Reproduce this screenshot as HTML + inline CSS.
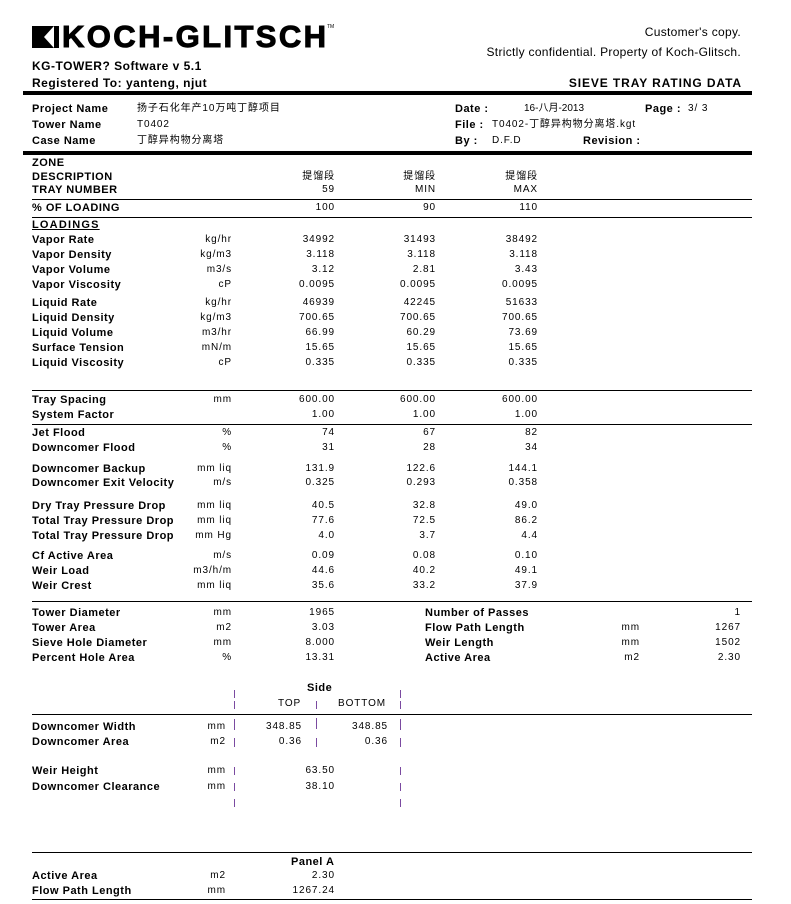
<!DOCTYPE html>
<html><head><meta charset="utf-8"><style>
html,body{margin:0;padding:0;background:#fff;}
body{width:791px;height:904px;position:relative;overflow:hidden;font-family:"Liberation Sans","Noto Sans CJK SC",sans-serif;color:#000;}
div{position:absolute;white-space:nowrap;line-height:12px;}
.b{font-weight:bold;font-size:11px;letter-spacing:0.5px;}
.n{font-size:10px;letter-spacing:0.9px;}
.h{height:0;border-top:1px solid #000;}
.t{height:0;border-top:4px solid #000;}
.v{width:0;border-left:1px solid #7a4aa0;}
</style></head><body>
<div style="left:32px;top:26px;width:27px;height:22px;background:#000;"></div>
<div style="left:44px;top:26px;width:0;height:0;border-top:11px solid transparent;border-bottom:11px solid transparent;border-left:0;border-right:10px solid #fff;"></div>
<div style="left:62px;top:20px;font-size:31px;line-height:34px;font-weight:bold;letter-spacing:2.4px;-webkit-text-stroke:1px #000;">KOCH-GLITSCH</div>
<div style="left:327px;top:24px;font-size:5px;line-height:6px;">TM</div>
<div style="right:50px;top:26px;font-size:12px;letter-spacing:0.3px;">Customer's copy.</div>
<div style="right:50px;top:46px;font-size:12px;letter-spacing:0.3px;">Strictly confidential. Property of Koch-Glitsch.</div>
<div class="b" style="left:32px;top:60px;font-size:12px;">KG-TOWER? Software v 5.1</div>
<div class="b" style="left:32px;top:77px;font-size:12px;">Registered To: yanteng, njut</div>
<div class="b" style="right:49px;top:77px;font-size:12px;letter-spacing:0.9px;">SIEVE TRAY RATING DATA</div>
<div class="t" style="left:23px;top:91px;width:729px;"></div>
<div class="b" style="left:32px;top:103px;">Project Name</div><div class="n" style="left:137px;top:103px;">扬子石化年产10万吨丁醇项目</div>
<div class="b" style="left:32px;top:119px;">Tower Name</div><div class="n" style="left:137px;top:119px;">T0402</div>
<div class="b" style="left:32px;top:135px;">Case Name</div><div class="n" style="left:137px;top:135px;">丁醇异构物分离塔</div>
<div class="b" style="left:455px;top:103px;">Date :</div><div class="n" style="left:524px;top:103px;letter-spacing:0;">16-八月-2013</div>
<div class="b" style="left:645px;top:103px;">Page :</div><div class="n" style="left:688px;top:103px;">3/ 3</div>
<div class="b" style="left:455px;top:119px;">File :</div><div class="n" style="left:492px;top:119px;">T0402-丁醇异构物分离塔.kgt</div>
<div class="b" style="left:455px;top:135px;">By :</div><div class="n" style="left:492px;top:135px;">D.F.D</div>
<div class="b" style="left:583px;top:135px;">Revision :</div>
<div class="t" style="left:23px;top:151px;width:729px;"></div>

<div class="b" style="left:32px;top:157px;">ZONE</div>
<div class="b" style="left:32px;top:171px;">DESCRIPTION</div>
<div class="n" style="right:456px;top:171px;">提馏段</div><div class="n" style="right:355px;top:171px;">提馏段</div><div class="n" style="right:253px;top:171px;">提馏段</div>
<div class="b" style="left:32px;top:184px;">TRAY NUMBER</div>
<div class="n" style="right:456px;top:184px;">59</div><div class="n" style="right:355px;top:184px;">MIN</div><div class="n" style="right:253px;top:184px;">MAX</div>
<div class="h" style="left:32px;top:199px;width:720px;"></div>
<div class="b" style="left:32px;top:202px;">% OF LOADING</div>
<div class="n" style="right:456px;top:202px;">100</div><div class="n" style="right:355px;top:202px;">90</div><div class="n" style="right:253px;top:202px;">110</div>
<div class="h" style="left:32px;top:217px;width:720px;"></div>
<div class="b" style="left:32px;top:219px;text-decoration:underline;letter-spacing:1.2px;">LOADINGS</div>

<div class="b" style="left:32px;top:234px;">Vapor Rate</div><div class="n" style="right:559px;top:234px;">kg/hr</div><div class="n" style="right:456px;top:234px;">34992</div><div class="n" style="right:355px;top:234px;">31493</div><div class="n" style="right:253px;top:234px;">38492</div>
<div class="b" style="left:32px;top:249px;">Vapor Density</div><div class="n" style="right:559px;top:249px;">kg/m3</div><div class="n" style="right:456px;top:249px;">3.118</div><div class="n" style="right:355px;top:249px;">3.118</div><div class="n" style="right:253px;top:249px;">3.118</div>
<div class="b" style="left:32px;top:264px;">Vapor Volume</div><div class="n" style="right:559px;top:264px;">m3/s</div><div class="n" style="right:456px;top:264px;">3.12</div><div class="n" style="right:355px;top:264px;">2.81</div><div class="n" style="right:253px;top:264px;">3.43</div>
<div class="b" style="left:32px;top:279px;">Vapor Viscosity</div><div class="n" style="right:559px;top:279px;">cP</div><div class="n" style="right:456px;top:279px;">0.0095</div><div class="n" style="right:355px;top:279px;">0.0095</div><div class="n" style="right:253px;top:279px;">0.0095</div>
<div class="b" style="left:32px;top:297px;">Liquid Rate</div><div class="n" style="right:559px;top:297px;">kg/hr</div><div class="n" style="right:456px;top:297px;">46939</div><div class="n" style="right:355px;top:297px;">42245</div><div class="n" style="right:253px;top:297px;">51633</div>
<div class="b" style="left:32px;top:312px;">Liquid Density</div><div class="n" style="right:559px;top:312px;">kg/m3</div><div class="n" style="right:456px;top:312px;">700.65</div><div class="n" style="right:355px;top:312px;">700.65</div><div class="n" style="right:253px;top:312px;">700.65</div>
<div class="b" style="left:32px;top:327px;">Liquid Volume</div><div class="n" style="right:559px;top:327px;">m3/hr</div><div class="n" style="right:456px;top:327px;">66.99</div><div class="n" style="right:355px;top:327px;">60.29</div><div class="n" style="right:253px;top:327px;">73.69</div>
<div class="b" style="left:32px;top:342px;">Surface Tension</div><div class="n" style="right:559px;top:342px;">mN/m</div><div class="n" style="right:456px;top:342px;">15.65</div><div class="n" style="right:355px;top:342px;">15.65</div><div class="n" style="right:253px;top:342px;">15.65</div>
<div class="b" style="left:32px;top:357px;">Liquid Viscosity</div><div class="n" style="right:559px;top:357px;">cP</div><div class="n" style="right:456px;top:357px;">0.335</div><div class="n" style="right:355px;top:357px;">0.335</div><div class="n" style="right:253px;top:357px;">0.335</div>

<div class="h" style="left:32px;top:390px;width:720px;"></div>
<div class="b" style="left:32px;top:394px;">Tray Spacing</div><div class="n" style="right:559px;top:394px;">mm</div><div class="n" style="right:456px;top:394px;">600.00</div><div class="n" style="right:355px;top:394px;">600.00</div><div class="n" style="right:253px;top:394px;">600.00</div>
<div class="b" style="left:32px;top:409px;">System Factor</div><div class="n" style="right:456px;top:409px;">1.00</div><div class="n" style="right:355px;top:409px;">1.00</div><div class="n" style="right:253px;top:409px;">1.00</div>
<div class="h" style="left:32px;top:424px;width:720px;"></div>
<div class="b" style="left:32px;top:427px;">Jet Flood</div><div class="n" style="right:559px;top:427px;">%</div><div class="n" style="right:456px;top:427px;">74</div><div class="n" style="right:355px;top:427px;">67</div><div class="n" style="right:253px;top:427px;">82</div>
<div class="b" style="left:32px;top:442px;">Downcomer Flood</div><div class="n" style="right:559px;top:442px;">%</div><div class="n" style="right:456px;top:442px;">31</div><div class="n" style="right:355px;top:442px;">28</div><div class="n" style="right:253px;top:442px;">34</div>
<div class="b" style="left:32px;top:463px;">Downcomer Backup</div><div class="n" style="right:559px;top:463px;">mm liq</div><div class="n" style="right:456px;top:463px;">131.9</div><div class="n" style="right:355px;top:463px;">122.6</div><div class="n" style="right:253px;top:463px;">144.1</div>
<div class="b" style="left:32px;top:477px;">Downcomer Exit Velocity</div><div class="n" style="right:559px;top:477px;">m/s</div><div class="n" style="right:456px;top:477px;">0.325</div><div class="n" style="right:355px;top:477px;">0.293</div><div class="n" style="right:253px;top:477px;">0.358</div>
<div class="b" style="left:32px;top:500px;">Dry Tray Pressure Drop</div><div class="n" style="right:559px;top:500px;">mm liq</div><div class="n" style="right:456px;top:500px;">40.5</div><div class="n" style="right:355px;top:500px;">32.8</div><div class="n" style="right:253px;top:500px;">49.0</div>
<div class="b" style="left:32px;top:515px;">Total Tray Pressure Drop</div><div class="n" style="right:559px;top:515px;">mm liq</div><div class="n" style="right:456px;top:515px;">77.6</div><div class="n" style="right:355px;top:515px;">72.5</div><div class="n" style="right:253px;top:515px;">86.2</div>
<div class="b" style="left:32px;top:530px;">Total Tray Pressure Drop</div><div class="n" style="right:559px;top:530px;">mm Hg</div><div class="n" style="right:456px;top:530px;">4.0</div><div class="n" style="right:355px;top:530px;">3.7</div><div class="n" style="right:253px;top:530px;">4.4</div>
<div class="b" style="left:32px;top:550px;">Cf Active Area</div><div class="n" style="right:559px;top:550px;">m/s</div><div class="n" style="right:456px;top:550px;">0.09</div><div class="n" style="right:355px;top:550px;">0.08</div><div class="n" style="right:253px;top:550px;">0.10</div>
<div class="b" style="left:32px;top:565px;">Weir Load</div><div class="n" style="right:559px;top:565px;">m3/h/m</div><div class="n" style="right:456px;top:565px;">44.6</div><div class="n" style="right:355px;top:565px;">40.2</div><div class="n" style="right:253px;top:565px;">49.1</div>
<div class="b" style="left:32px;top:580px;">Weir Crest</div><div class="n" style="right:559px;top:580px;">mm liq</div><div class="n" style="right:456px;top:580px;">35.6</div><div class="n" style="right:355px;top:580px;">33.2</div><div class="n" style="right:253px;top:580px;">37.9</div>
<div class="h" style="left:32px;top:601px;width:720px;"></div>

<div class="b" style="left:32px;top:607px;">Tower Diameter</div><div class="n" style="right:559px;top:607px;">mm</div><div class="n" style="right:456px;top:607px;">1965</div>
<div class="b" style="left:32px;top:622px;">Tower Area</div><div class="n" style="right:559px;top:622px;">m2</div><div class="n" style="right:456px;top:622px;">3.03</div>
<div class="b" style="left:32px;top:637px;">Sieve Hole Diameter</div><div class="n" style="right:559px;top:637px;">mm</div><div class="n" style="right:456px;top:637px;">8.000</div>
<div class="b" style="left:32px;top:652px;">Percent Hole Area</div><div class="n" style="right:559px;top:652px;">%</div><div class="n" style="right:456px;top:652px;">13.31</div>
<div class="b" style="left:425px;top:607px;">Number of Passes</div><div class="n" style="right:50px;top:607px;">1</div>
<div class="b" style="left:425px;top:622px;">Flow Path Length</div><div class="n" style="right:151px;top:622px;">mm</div><div class="n" style="right:50px;top:622px;">1267</div>
<div class="b" style="left:425px;top:637px;">Weir Length</div><div class="n" style="right:151px;top:637px;">mm</div><div class="n" style="right:50px;top:637px;">1502</div>
<div class="b" style="left:425px;top:652px;">Active Area</div><div class="n" style="right:151px;top:652px;">m2</div><div class="n" style="right:50px;top:652px;">2.30</div>

<div class="b" style="left:307px;top:682px;">Side</div>
<div class="n" style="left:278px;top:698px;">TOP</div>
<div class="n" style="left:338px;top:698px;">BOTTOM</div>
<div class="h" style="left:32px;top:714px;width:720px;"></div>
<div class="b" style="left:32px;top:721px;">Downcomer Width</div><div class="n" style="right:565px;top:721px;">mm</div><div class="n" style="right:489px;top:721px;">348.85</div><div class="n" style="right:403px;top:721px;">348.85</div>
<div class="b" style="left:32px;top:736px;">Downcomer Area</div><div class="n" style="right:565px;top:736px;">m2</div><div class="n" style="right:489px;top:736px;">0.36</div><div class="n" style="right:403px;top:736px;">0.36</div>
<div class="b" style="left:32px;top:765px;">Weir Height</div><div class="n" style="right:565px;top:765px;">mm</div><div class="n" style="right:456px;top:765px;">63.50</div>
<div class="b" style="left:32px;top:781px;">Downcomer Clearance</div><div class="n" style="right:565px;top:781px;">mm</div><div class="n" style="right:456px;top:781px;">38.10</div>

<div class="v" style="left:234px;top:690px;height:8px;"></div><div class="v" style="left:234px;top:701px;height:8px;"></div><div class="v" style="left:234px;top:719px;height:11px;"></div><div class="v" style="left:234px;top:738px;height:9px;"></div><div class="v" style="left:234px;top:767px;height:8px;"></div><div class="v" style="left:234px;top:783px;height:8px;"></div><div class="v" style="left:234px;top:799px;height:8px;"></div>
<div class="v" style="left:316px;top:701px;height:8px;"></div><div class="v" style="left:316px;top:718px;height:11px;"></div><div class="v" style="left:316px;top:738px;height:9px;"></div>
<div class="v" style="left:400px;top:690px;height:8px;"></div><div class="v" style="left:400px;top:701px;height:8px;"></div><div class="v" style="left:400px;top:719px;height:11px;"></div><div class="v" style="left:400px;top:738px;height:9px;"></div><div class="v" style="left:400px;top:767px;height:8px;"></div><div class="v" style="left:400px;top:783px;height:8px;"></div><div class="v" style="left:400px;top:799px;height:8px;"></div>

<div class="h" style="left:32px;top:852px;width:720px;"></div>
<div class="b" style="left:291px;top:856px;">Panel A</div>
<div class="b" style="left:32px;top:870px;">Active Area</div><div class="n" style="right:565px;top:870px;">m2</div><div class="n" style="right:456px;top:870px;">2.30</div>
<div class="b" style="left:32px;top:885px;">Flow Path Length</div><div class="n" style="right:565px;top:885px;">mm</div><div class="n" style="right:456px;top:885px;">1267.24</div>
<div class="h" style="left:32px;top:899px;width:720px;"></div>
</body></html>
